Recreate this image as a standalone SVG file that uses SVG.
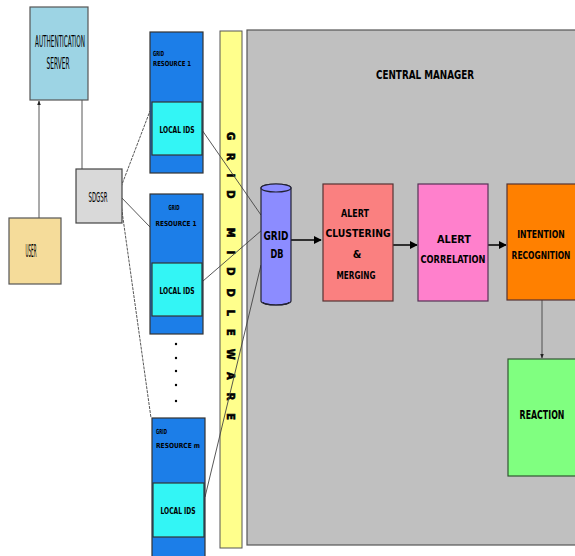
<svg xmlns="http://www.w3.org/2000/svg" width="575" height="556" viewBox="0 0 575 556">
<defs>
<style>
text{font-family:"DejaVu Sans Condensed","Liberation Sans",sans-serif;fill:#000;}
.b{font-weight:bold;}
.c{text-anchor:middle;}
.box{stroke:#333;stroke-width:1.2;}
.ln{stroke:#444;stroke-width:0.9;fill:none;}
.ar{stroke:#000;stroke-width:1.5;fill:none;}
</style>
<marker id="ah" viewBox="0 0 10 10" refX="9" refY="5" markerWidth="5.5" markerHeight="5.5" orient="auto"><path d="M0,0L10,5L0,10z" fill="#000"/></marker>
<marker id="ahs" viewBox="0 0 10 10" refX="9" refY="5" markerWidth="6" markerHeight="5" orient="auto"><path d="M0,1L10,5L0,9z" fill="#222"/></marker>
</defs>
<rect width="575" height="556" fill="#fff"/>

<g id="central-manager">
<rect x="247" y="30" width="329" height="515" fill="#C0C0C0" stroke="#555" stroke-width="1.2"/>
<text x="425" y="79" class="b c" font-size="13" textLength="98" lengthAdjust="spacingAndGlyphs">CENTRAL MANAGER</text>
</g>

<g id="grid-middleware">
<rect x="220" y="31" width="22" height="517" fill="#FFFF8C" stroke="#555" stroke-width="1"/>
<text transform="translate(227,132) rotate(90)" class="b" font-size="11" stroke="#000" stroke-width="0.6" textLength="288" lengthAdjust="spacing">GRID MIDDLEWARE</text>
</g>

<g id="connectors">
<line x1="39" y1="218" x2="39" y2="101" class="ln" marker-end="url(#ahs)"/>
<line x1="82" y1="100" x2="82" y2="170" class="ln"/>
<line x1="121" y1="187" x2="150" y2="111" class="ln" stroke-dasharray="3,1"/>
<line x1="120" y1="196" x2="150" y2="227" class="ln"/>
<line x1="121" y1="204" x2="151" y2="418" class="ln" stroke-dasharray="3,1"/>
<line x1="202" y1="130" x2="261" y2="215" class="ln"/>
<line x1="203" y1="281" x2="262" y2="230" class="ln"/>
<line x1="205" y1="497" x2="261" y2="265" class="ln"/>
<line x1="291" y1="240" x2="321" y2="240" class="ar" marker-end="url(#ah)"/>
<line x1="393" y1="245" x2="417" y2="245" class="ar" marker-end="url(#ah)"/>
<line x1="488" y1="245" x2="506" y2="245" class="ar" marker-end="url(#ah)"/>
<line x1="542" y1="300" x2="542" y2="358" class="ln" marker-end="url(#ahs)"/>
</g>

<g id="auth-server">
<rect x="30" y="7" width="58" height="93" fill="#9DD4E4" stroke="#555" stroke-width="1.2"/>
<text x="60" y="47" class="c" font-size="15" fill="#222" textLength="50" lengthAdjust="spacingAndGlyphs">AUTHENTICATION</text>
<text x="58" y="69" class="c" font-size="15" fill="#222" textLength="23" lengthAdjust="spacingAndGlyphs">SERVER</text>
</g>

<g id="user">
<rect x="9" y="218" width="52" height="66" fill="#F5DC9A" stroke="#555" stroke-width="1.2"/>
<text x="31" y="257" class="c" font-size="17" fill="#222" textLength="11" lengthAdjust="spacingAndGlyphs">USER</text>
</g>

<g id="sdgsr">
<rect x="76" y="169" width="46" height="54" fill="#D9D9D9" stroke="#444" stroke-width="1.2"/>
<text x="98" y="202" class="c" font-size="14" fill="#222" textLength="19" lengthAdjust="spacingAndGlyphs">SDGSR</text>
</g>

<g id="grid-resource-1">
<rect x="150" y="32" width="53" height="141" fill="#1C7EE8" class="box"/>
<rect x="152" y="102" width="50" height="53" fill="#33F5F5" class="box"/>
<text x="153" y="56" class="b" font-size="7" textLength="11" lengthAdjust="spacingAndGlyphs">GRID</text>
<text x="153" y="66" class="b" font-size="7" textLength="38" lengthAdjust="spacingAndGlyphs">RESOURCE 1</text>
<text x="177" y="133" class="b c" font-size="8" textLength="35" lengthAdjust="spacingAndGlyphs">LOCAL IDS</text>
</g>

<g id="grid-resource-2">
<rect x="150" y="194" width="53" height="140" fill="#1C7EE8" class="box"/>
<rect x="152" y="263" width="50" height="53" fill="#33F5F5" class="box"/>
<text x="174" y="210" class="b c" font-size="7" textLength="11" lengthAdjust="spacingAndGlyphs">GRID</text>
<text x="176" y="226" class="b c" font-size="7" textLength="41" lengthAdjust="spacingAndGlyphs">RESOURCE 1</text>
<text x="177" y="294" class="b c" font-size="8" textLength="35" lengthAdjust="spacingAndGlyphs">LOCAL IDS</text>
</g>

<g id="dots" fill="#000">
<circle cx="176" cy="344" r="1.2"/>
<circle cx="176" cy="358" r="1.2"/>
<circle cx="176" cy="371" r="1.2"/>
<circle cx="176" cy="385" r="1.2"/>
<circle cx="176" cy="401" r="1.2"/>
</g>

<g id="grid-resource-m">
<rect x="152" y="418" width="53" height="145" fill="#1C7EE8" class="box"/>
<rect x="153" y="483" width="51" height="54" fill="#33F5F5" class="box"/>
<text x="156" y="434" class="b" font-size="7" textLength="11" lengthAdjust="spacingAndGlyphs">GRID</text>
<text x="156" y="448" class="b" font-size="7" textLength="44" lengthAdjust="spacingAndGlyphs">RESOURCE m</text>
<text x="178" y="514" class="b c" font-size="8" textLength="35" lengthAdjust="spacingAndGlyphs">LOCAL IDS</text>
</g>

<g id="grid-db">
<path d="M261,188 L261,301 A15,4 0 0 0 291,301 L291,188 A15,4 0 0 0 261,188 Z" fill="#8C8CFF" stroke="#223" stroke-width="1.2"/>
<ellipse cx="276" cy="188" rx="15" ry="4" fill="#8C8CFF" stroke="#223" stroke-width="1.2"/>
<path d="M263,302 A13,3 0 0 0 289,302" fill="none" stroke="#223" stroke-width="1.2"/>
<text x="276" y="240" class="b c" font-size="13" textLength="25" lengthAdjust="spacingAndGlyphs">GRID</text>
<text x="277" y="258" class="b c" font-size="13" textLength="13" lengthAdjust="spacingAndGlyphs">DB</text>
</g>

<g id="alert-clustering">
<rect x="323" y="184" width="70" height="117" fill="#FA8080" stroke="#533" stroke-width="1.2"/>
<text x="355" y="217" class="b c" font-size="11" textLength="28" lengthAdjust="spacingAndGlyphs">ALERT</text>
<text x="358" y="237" class="b c" font-size="11" textLength="65" lengthAdjust="spacingAndGlyphs">CLUSTERING</text>
<text x="357" y="258" class="b c" font-size="11">&amp;</text>
<text x="356" y="279" class="b c" font-size="11" textLength="39" lengthAdjust="spacingAndGlyphs">MERGING</text>
</g>

<g id="alert-correlation">
<rect x="418" y="184" width="70" height="117" fill="#FF80CC" stroke="#535" stroke-width="1.2"/>
<text x="454" y="243" class="b c" font-size="11" textLength="34" lengthAdjust="spacingAndGlyphs">ALERT</text>
<text x="453" y="263" class="b c" font-size="11" textLength="65" lengthAdjust="spacingAndGlyphs">CORRELATION</text>
</g>

<g id="intention-recognition">
<rect x="507" y="184" width="69" height="116" fill="#FF8000" stroke="#533" stroke-width="1.2"/>
<text transform="translate(541,238) scale(0.7,1)" class="b c" font-size="11" textLength="68" lengthAdjust="spacingAndGlyphs">INTENTION</text>
<text transform="translate(541,259) scale(0.7,1)" class="b c" font-size="11" textLength="84" lengthAdjust="spacingAndGlyphs">RECOGNITION</text>
</g>

<g id="reaction">
<rect x="508" y="359" width="68" height="117" fill="#80FF80" stroke="#353" stroke-width="1.2"/>
<text transform="translate(542,419) scale(0.7,1)" class="b c" font-size="12" textLength="64" lengthAdjust="spacingAndGlyphs">REACTION</text>
</g>
</svg>
